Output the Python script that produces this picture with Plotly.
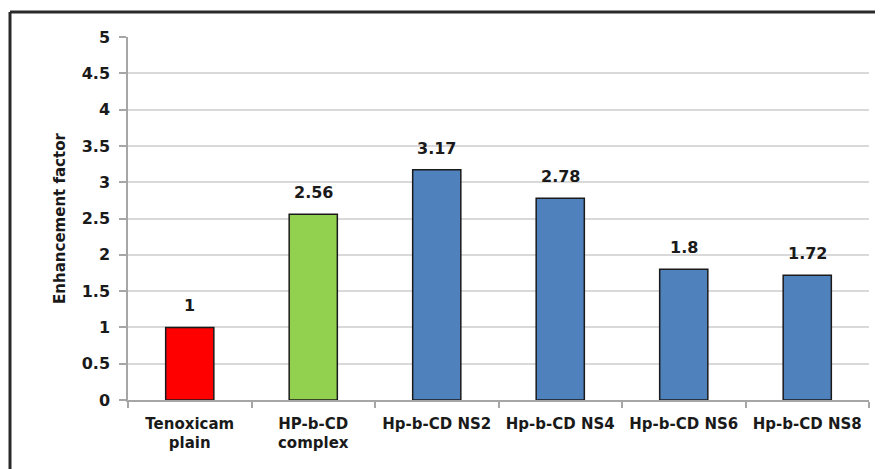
import plotly.graph_objects as go

categories = ["Tenoxicam<br>plain", "HP-b-CD<br>complex", "Hp-b-CD NS2", "Hp-b-CD NS4", "Hp-b-CD NS6", "Hp-b-CD NS8"]
values = [1, 2.56, 3.17, 2.78, 1.8, 1.72]
labels = ["1", "2.56", "3.17", "2.78", "1.8", "1.72"]
colors = ["#FF0000", "#92D050", "#4F81BD", "#4F81BD", "#4F81BD", "#4F81BD"]
y_ticks = [0, 0.5, 1, 1.5, 2, 2.5, 3, 3.5, 4, 4.5, 5]
y_tick_text = ["0", "0.5", "1", "1.5", "2", "2.5", "3", "3.5", "4", "4.5", "5"]

OFF = 8  # page body margin
W, H = 883 - OFF, 469 - OFF
ml, mr, mt, mb = 128 - OFF, 14, 37 - OFF, 69
pw, ph = W - ml - mr, H - mt - mb

font_family = "DejaVu Sans"
txt = "#1a1a1a"

fig = go.Figure(go.Bar(
    x=categories, y=values,
    marker=dict(color=colors, line=dict(color="#1a1a1a", width=1.5)),
    cliponaxis=False, hoverinfo="x+y",
))

for c, v, t in zip(categories, values, labels):
    fig.add_annotation(x=c, y=v, text=t, showarrow=False, yanchor="bottom", yshift=10,
                       font=dict(family=font_family, size=16, color=txt, weight="bold"))

# outer border (cropped frame)
bx = 10 - OFF
by = 12 - OFF
x0 = (bx - ml) / pw
y1 = (H - mb - by) / ph
fig.add_shape(type="line", xref="paper", yref="paper", x0=x0, x1=1.2, y0=y1, y1=y1,
              line=dict(color="#2a2a2a", width=3))
fig.add_shape(type="line", xref="paper", yref="paper", x0=x0, x1=x0, y0=y1, y1=-0.3,
              line=dict(color="#2a2a2a", width=3))

fig.update_layout(
    width=W, height=H,
    margin=dict(l=ml, r=mr, t=mt, b=mb),
    paper_bgcolor="white", plot_bgcolor="white",
    bargap=0.61, showlegend=False,
    font=dict(family=font_family, color=txt),
    xaxis=dict(
        tickson="boundaries", ticks="outside", ticklen=6, tickcolor="#a6a6a6", tickwidth=1.5,
        showline=True, linecolor="#a6a6a6", linewidth=1.5,
        tickfont=dict(family=font_family, size=15, color=txt, weight="bold"),
        ticklabelstandoff=9,
        showgrid=False,
    ),
    yaxis=dict(
        range=[0, 5], tickvals=y_ticks, ticktext=y_tick_text,
        ticks="outside", ticklen=7, tickcolor="#a6a6a6", tickwidth=1.5,
        showline=True, linecolor="#a6a6a6", linewidth=1.5,
        gridcolor="#d9d9d9", gridwidth=1.5,
        tickfont=dict(family=font_family, size=16, color=txt, weight="bold"),
        ticklabelstandoff=6,
        title=dict(text="Enhancement factor", font=dict(family=font_family, size=15, color=txt, weight="bold"), standoff=12),
        zeroline=False,
    ),
)

fig.write_html("out.html")
